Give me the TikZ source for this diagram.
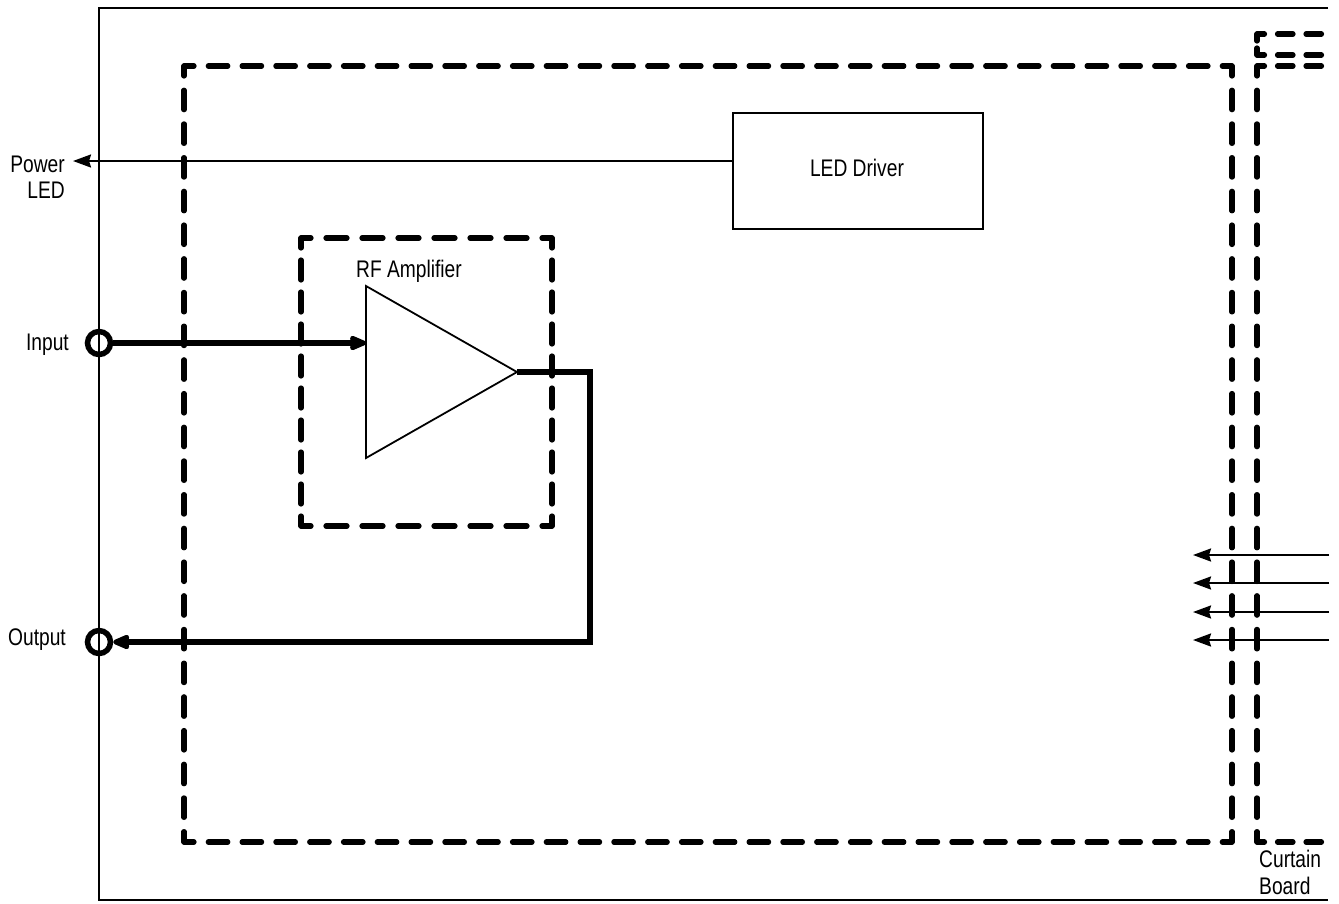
\documentclass[tikz,border=0pt]{standalone}
\usepackage{fontspec}
\setmainfont{Liberation Sans}[FakeStretch=0.8]
\usetikzlibrary{
  arrows.meta,
  positioning,
}

\begin{document}
\begin{tikzpicture}[
  x=1pt, y=-1pt,
  board/.style n args={3}{
    draw=black, line width=5.2pt, line cap=round, line join=round,
    dash pattern=on #1pt off #2pt, dash phase=#3pt,
  },
  block/.style={
    draw=black, line width=1.8pt, minimum width=250pt, minimum height=116pt,
    inner sep=0pt,
  },
  port/.style={
    circle, draw=black, line width=5.5pt, minimum size=23pt, inner sep=0pt,
  },
  lbl/.style={
    font=\fontsize{24}{26.5}\selectfont, text=black, inner sep=0pt, align=right,
  },
  wire/.style={
    draw=black, line width=2.2pt, -{Stealth[length=18pt,width=13pt,inset=2pt]},
  },
  rfwire/.style={
    draw=black, line width=5.6pt, line join=miter,
  },
  rfarrow/.style={
    rfwire, -{Stealth[length=20pt,width=16pt,inset=1pt,round]},
  },
]
  \useasboundingbox (0,0) rectangle (1339,903);

  % Outer chassis, open at the right
  \draw[line width=2.4pt] (1328,8) -- (99,8) -- (99,900) -- (1328,900);

  % Main board
  \draw[board={19.5}{14.3}{9.5}] (184,66) -- (1232,66);
  \draw[board={19.5}{14.3}{9.5}] (184,842) -- (1232,842);
  \draw[board={19.5}{14.2}{9.5}] (184,66) -- (184,842);
  \draw[board={19.5}{14.2}{9.5}] (1232,66) -- (1232,842);

  % Curtain board
  \draw[board={15.5}{13}{8}] (1257,34) -- (1325,34);
  \draw[board={15.5}{13}{8}] (1257,55) -- (1325,55);
  \draw[board={15.5}{13}{8}] (1257,66) -- (1325,66);
  \draw[board={15.5}{13}{8}] (1257,842) -- (1325,842);
  \draw[board={7}{7}{0}] (1257,34) -- (1257,55);
  \draw[board={19.5}{14.2}{9.5}] (1257,66) -- (1257,842);

  % RF amplifier board
  \draw[board={21}{15}{11}] (301,238) -- (552,238);
  \draw[board={21}{15}{11}] (301,526) -- (552,526);
  \draw[board={20}{12}{10}] (301,238) -- (301,526);
  \draw[board={20}{12}{10}] (552,238) -- (552,526);

  % Blocks
  \node[block] (driver) at (858,171) {};
  \node[lbl] (driverlbl) at (857,168) {LED Driver};
  \coordinate (ampin) at (366,343);
  \coordinate (ampout) at (517,372);
  \draw[line width=1.8pt, line join=miter] (366,286) -- (ampout) -- (366,458) -- cycle;
  \node[lbl, anchor=west] (amplbl) at (356,271) {RF Amplifier};

  % Ports
  \node[port] (input) at (99,343) {};
  \node[port] (output) at (99,642) {};
  \coordinate (led) at (73,161);
  \coordinate (bend) at (590,372);

  % Labels
  \node[lbl, anchor=east] (ledlbl) at (65,177) {Power\\LED};
  \node[lbl, anchor=east] (inputlbl) at (69,345) {Input};
  \node[lbl, anchor=east] (outputlbl) at (66,640) {Output};
  \node[lbl, anchor=north west, align=left] (curtain) at (1259,850) {Curtain\\Board};

  % Connections
  \draw[wire] (driver.west |- led) -- (led);
  \draw[rfarrow] (input) -- (ampin);
  \draw[rfwire] (ampout) -- (bend) -- (bend |- output);
  \draw[rfarrow] (bend |- output) ++(2.8,0) -- (output);

  % Curtain board lines
  \foreach \name/\ypos in {a/555, b/583, c/612, d/640} {
    \coordinate (from\name) at (1329,\ypos);
    \coordinate (to\name) at (1193,\ypos);
    \draw[wire] (from\name) -- (to\name);
  }
\end{tikzpicture}
\end{document}
